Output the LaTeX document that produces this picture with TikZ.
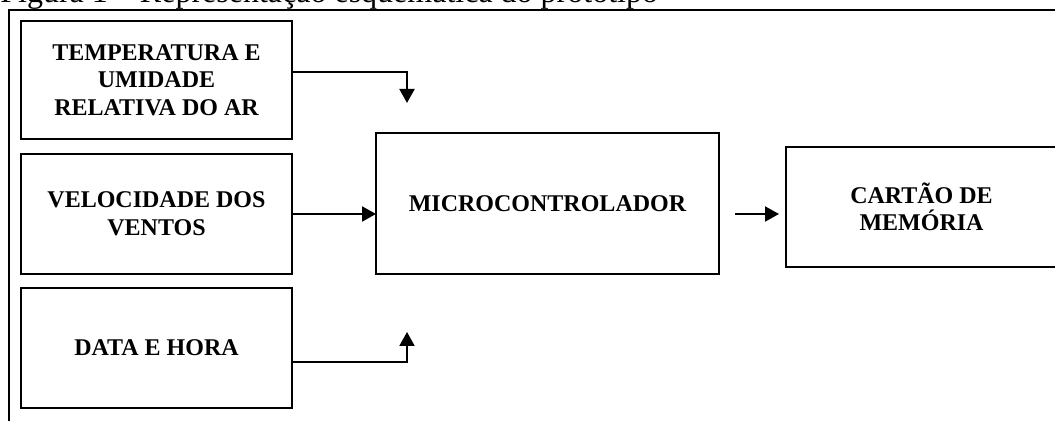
\documentclass[tikz,border=0pt]{standalone}
\usepackage{fontspec}
\setmainfont{Liberation Serif}
\usetikzlibrary{arrows.meta, positioning}

\begin{document}
\begin{tikzpicture}[
    x=0.5pt, y=-0.5pt,
    every node/.style={align=center},
    block/.style={rectangle, draw, line width=1.2pt, minimum width=135.5pt, minimum height=60pt, inner sep=2pt, outer sep=0pt, font=\fontsize{12}{13.8}\selectfont\bfseries},
    arrow/.style={-{Triangle[length=7pt, width=7.5pt]}, line width=1pt},
    frame/.style={line width=1pt}
]
    \useasboundingbox (0,0) rectangle (1055,421);

    % Caption (cut at the top)
    \node[anchor=base west, inner sep=0pt, font=\fontsize{16}{19}\selectfont] (title) at (0,3) {Figura 1 -- Representação esquemática do protótipo};

    % Frame
    \draw[frame] (1070,10) -- (9,10) -- (9,430);

    % Sensors
    \node[block, minimum height=59pt, anchor=north west] (temp) at (21,21) {TEMPERATURA E\\UMIDADE\\RELATIVA DO AR};
    \node[block, below=7.5pt of temp] (vel) {VELOCIDADE DOS\\VENTOS};
    \node[block, below=7pt of vel] (data) {DATA E HORA};

    % Controller and storage
    \node[block, minimum width=171.5pt, minimum height=70.5pt, anchor=north west] (micro) at (376,133) {MICROCONTROLADOR};
    \node[block, anchor=north west] (card) at (786,147) {CARTÃO DE\\MEMÓRIA};

    % Free arrow ends
    \coordinate (in1) at (407,103);
    \coordinate (in3) at (407,332);

    % Arrows
    \draw[arrow] ([yshift=4pt]temp.east) -| (in1);
    \draw[arrow] (vel.east) -- (vel.east -| micro.west);
    \draw[arrow] ([yshift=-7pt]data.east) -| (in3);
    \draw[arrow] ([xshift=8pt]micro.east |- vel.east) -- ([xshift=-3.5pt]card.west |- vel.east);

\end{tikzpicture}
\end{document}
